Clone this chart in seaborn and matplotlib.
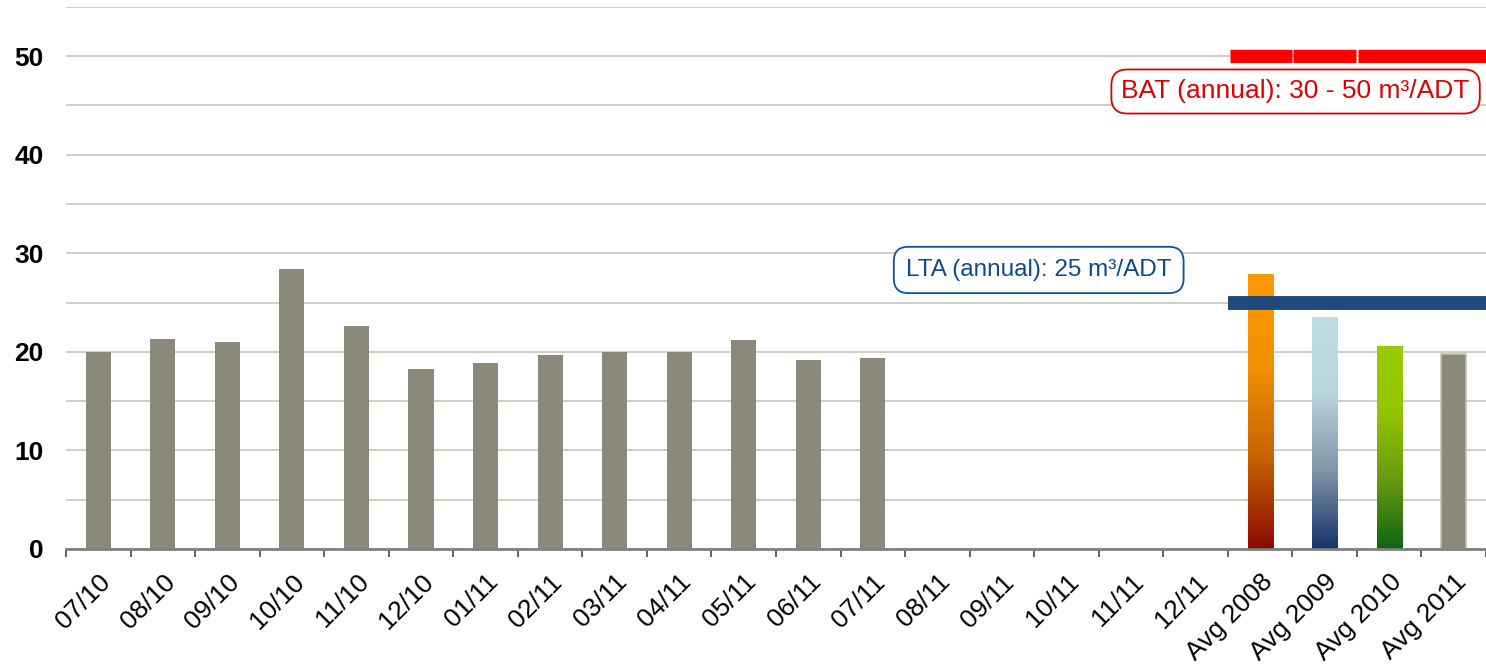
import numpy as np
import pandas as pd
import matplotlib
matplotlib.use("Agg")
import matplotlib.pyplot as plt
from matplotlib.colors import LinearSegmentedColormap
import seaborn as sns

categories = ["07/10", "08/10", "09/10", "10/10", "11/10", "12/10", "01/11", "02/11",
              "03/11", "04/11", "05/11", "06/11", "07/11", "08/11", "09/11", "10/11",
              "11/11", "12/11", "Avg 2008", "Avg 2009", "Avg 2010", "Avg 2011"]
values = [20.0, 21.3, 21.0, 28.4, 22.6, 18.25, 18.9, 19.7, 20.0, 20.0, 21.2, 19.2, 19.4,
          0, 0, 0, 0, 0, 27.9, 23.5, 20.6, 19.8]
bat_range = (30, 50)
lta_value = 25

grey = "#8B8A7A"
gradients = {
    "Avg 2008": ["#FF9900", "#F39000", "#C86200", "#8B0A00"],
    "Avg 2009": ["#BFDDE3", "#B8D4DC", "#7F95A8", "#16336B"],
    "Avg 2010": ["#99CC00", "#93C400", "#66990F", "#0E6414"],
}

sns.set_theme(style="white")
plt.rcParams["font.family"] = ["Liberation Sans", "DejaVu Sans"]

fig = plt.figure(figsize=(14.86, 6.66), dpi=100)
ax = fig.add_axes([66 / 1486, 1 - 549 / 666, 1 - 66 / 1486, (549 - 6.7) / 666])

df = pd.DataFrame({"cat": categories, "val": values})
sns.barplot(data=df, x="cat", y="val", order=categories, color=grey, width=0.39,
            linewidth=0, saturation=1, ax=ax, zorder=2)

ax.set_xlim(-0.5, len(categories) - 0.5)
ax.set_ylim(0, 55)

# gradient fills
for patch, cat in zip(ax.patches, categories):
    if cat in gradients:
        x0, y0 = patch.get_x(), patch.get_y()
        w, h = patch.get_width(), patch.get_height()
        cmap = LinearSegmentedColormap.from_list(cat, gradients[cat])
        grad = np.linspace(0, 1, 256).reshape(-1, 1)
        im = ax.imshow(grad, cmap=cmap, aspect="auto", origin="upper",
                       extent=(x0, x0 + w, y0, y0 + h), zorder=2.1,
                       interpolation="bilinear")
        im.set_clip_path(patch)
        patch.set_facecolor("none")
    if cat == "Avg 2011":
        patch.set_edgecolor("#C2C1B8")
        patch.set_linewidth(1.2)

# BAT line (segments)
n = len(categories)
red_segs = [(17.54, 18.49), (18.51, 19.49), (19.51, n - 0.5)]
for a, b in red_segs:
    ax.plot([a, b], [bat_range[1], bat_range[1]], color="#FF0000", lw=9.6,
            solid_capstyle="butt", zorder=5)

# LTA line
ax.plot([17.5, n - 0.5], [lta_value, lta_value], color="#1F497D", lw=10,
        solid_capstyle="butt", zorder=5)

ax.text(18.55, 46.4, "BAT (annual): 30 - 50 m³/ADT", color="#E00000", fontsize=19,
        ha="center", va="center", zorder=6,
        bbox=dict(boxstyle="round,pad=0.38,rounding_size=0.6", fc="white",
                  ec="#E00000", lw=1.3))
ax.text(14.57, 28.3, "LTA (annual): 25 m³/ADT", color="#0B4A8F", fontsize=17.5,
        ha="center", va="center", zorder=6,
        bbox=dict(boxstyle="round,pad=0.5,rounding_size=0.6", fc="white",
                  ec="#0B52A0", lw=1.3))

# axes styling
yt = list(range(0, 56, 5))
ax.set_yticks(yt)
ax.set_yticklabels([str(v) if v % 10 == 0 else "" for v in yt],
                   fontsize=19, fontweight="bold", color="black")
ax.tick_params(axis="y", length=0, pad=16)
ax.yaxis.grid(True, color="#C6C5BC", lw=1.2, zorder=0)
ax.set_axisbelow(True)

ax.set_xticks(range(n))
ax.set_xticklabels(categories, rotation=45, ha="right", rotation_mode="anchor",
                   fontsize=19, color="black")
ax.tick_params(axis="x", which="major", length=0, pad=15)
ax.set_xticks(np.arange(-0.5, n, 1.0), minor=True)
ax.tick_params(axis="x", which="minor", length=6, width=1.3, color="#555555",
               direction="out", bottom=True)

for s in ["top", "right", "left"]:
    ax.spines[s].set_visible(False)
ax.spines["bottom"].set_color("#808080")
ax.spines["bottom"].set_linewidth(2)
ax.spines["bottom"].set_zorder(4)
ax.set_xlabel("")
ax.set_ylabel("")

fig.savefig("out.png", dpi=100)
